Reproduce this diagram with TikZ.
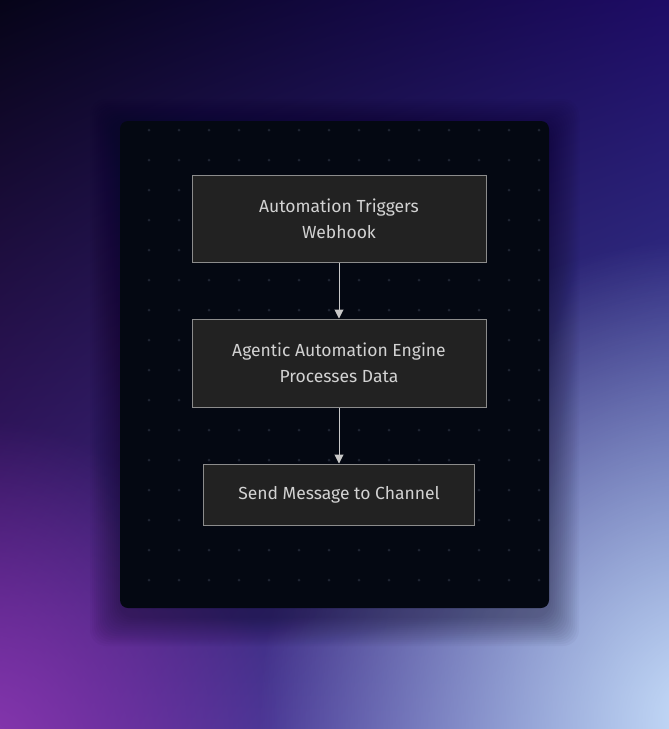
\documentclass[tikz,border=0pt]{standalone}
\usepackage{fontspec}
\setmainfont{Fira Sans}
\usetikzlibrary{arrows.meta,fadings,shadings}
\definecolor{bgUL}{HTML}{060418}
\definecolor{bgUR}{HTML}{1E0C66}
\definecolor{bgLL}{HTML}{4A2088}
\definecolor{bgLR}{HTML}{4858A8}
\definecolor{glowblue}{HTML}{C8DEFA}
\definecolor{glowpurple}{HTML}{8A38B0}
\definecolor{panelbg}{HTML}{040812}
\definecolor{panelshade}{HTML}{0A0620}
\definecolor{griddot}{HTML}{1E2432}
\definecolor{boxfill}{HTML}{222222}
\definecolor{boxline}{HTML}{8C8C8C}
\definecolor{boxtext}{HTML}{D2D2D2}
\definecolor{flowline}{HTML}{C8C8C8}
\tikzfading[name=glowfade, inner color=transparent!0, outer color=transparent!100]
\tikzset{fb/.style={draw=boxline, fill=boxfill, line width=1pt, text=boxtext, align=center,
    font=\fontsize{17.5}{26}\selectfont, inner sep=0pt, minimum width=294pt, minimum height=87pt},
  fl/.style={draw=flowline, line width=1pt, -{Triangle[width=9pt,length=9pt]}}}

\begin{document}
\begin{tikzpicture}[x=1pt,y=-1pt]
            % backdrop
            \useasboundingbox (0,0) rectangle (669,729);
            \shade[upper left=bgUL, upper right=bgUR, lower left=bgLL, lower right=bgLR] (0,0) rectangle (669,729);
            \begin{scope}
            \clip (0,0) rectangle (669,729);
            \fill[glowblue, path fading=glowfade] (700,720) ellipse [x radius=440, y radius=480];
            \fill[glowpurple, path fading=glowfade] (-20,760) ellipse [x radius=300, y radius=340];
            \end{scope}
            % panel with soft shadow
            \foreach \s in {2,4,...,30}
              \fill[panelshade, opacity=0.03, rounded corners=16pt] (120-\s,129-\s) rectangle (549+\s,616+\s);
            \fill[panelbg, rounded corners=8pt] (120,121) rectangle (549,608);
            \foreach \gx in {0,...,13}
              \foreach \gy in {0,...,15}
                \fill[griddot] (149+30*\gx,130+30*\gy) circle (1.5);
            % flow
            \node[fb] (trig) at (339,218.5) {Automation Triggers\\Webhook};
            \node[fb, minimum height=88pt] (eng) at (339,363) {Agentic Automation Engine\\Processes Data};
            \node[fb, minimum width=271pt, minimum height=61pt] (send) at (339,494.5) {Send Message to Channel};
            \path (trig) edge[fl] (eng);
            \path (eng) edge[fl] (send);
        \end{tikzpicture}
\end{document}
